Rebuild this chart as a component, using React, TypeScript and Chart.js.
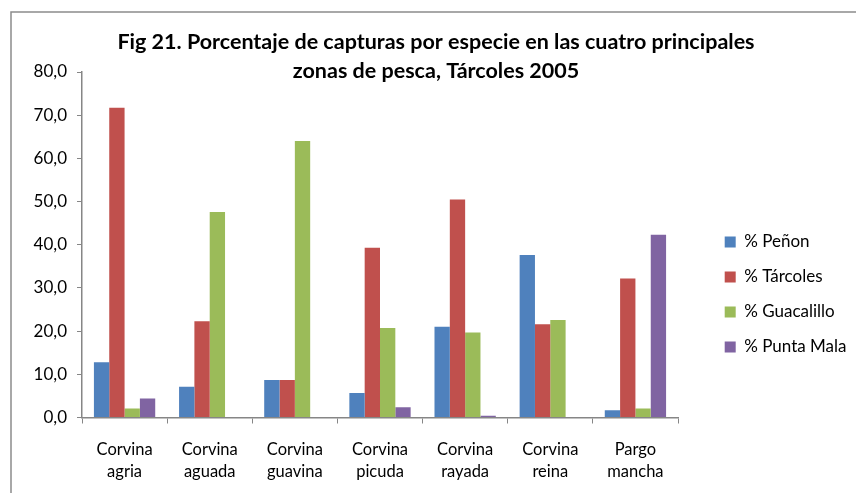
import React, { useEffect, useRef } from 'react';
import { Chart, registerables } from 'chart.js';

Chart.register(...registerables);

const titleLines = [
  'Fig 21. Porcentaje de capturas por especie en las cuatro principales',
  'zonas de pesca, Tárcoles 2005',
];
const categories = [
  ['Corvina', 'agria'],
  ['Corvina', 'aguada'],
  ['Corvina', 'guavina'],
  ['Corvina', 'picuda'],
  ['Corvina', 'rayada'],
  ['Corvina', 'reina'],
  ['Pargo', 'mancha'],
];
const seriesNames = ['% Peñon', '% Tárcoles', '% Guacalillo', '% Punta Mala'];
const penon = [12.8, 7.1, 8.7, 5.7, 21.0, 37.6, 1.7];
const tarcoles = [71.7, 22.3, 8.7, 39.3, 50.5, 21.6, 32.2];
const guacalillo = [2.1, 47.6, 64.0, 20.7, 19.7, 22.6, 2.1];
const puntaMala = [4.4, 0, 0, 2.4, 0.4, 0, 42.3];
const yTickLabels = ['0,0', '10,0', '20,0', '30,0', '40,0', '50,0', '60,0', '70,0', '80,0'];
const seriesColors = ['#4F81BD', '#C0504D', '#9BBB59', '#8064A2'];

const FONT = 'Lato, "Noto Sans", sans-serif';
const AXIS = '#868686';

const framePlugin = {
  id: 'frame',
  beforeDraw(chart: any) {
    const ctx = chart.ctx;
    ctx.save();
    ctx.strokeStyle = '#8c8c8c';
    ctx.lineWidth = 1.5;
    ctx.beginPath();
    ctx.moveTo(11, chart.height);
    ctx.lineTo(11, 12);
    ctx.lineTo(chart.width, 12);
    ctx.stroke();
    ctx.restore();
  },
};

const placePlugin = {
  id: 'place',
  afterLayout(chart: any) {
    const t = chart.titleBlock;
    if (t) {
      const h = t.height;
      t.top = 27.5;
      t.bottom = 27.5 + h;
      t.left = 0;
      t.right = 872;
    }
    const l = chart.legend;
    if (l) {
      const w = l.width;
      const h = l.height;
      l.left = 706.7;
      l.right = 706.7 + w;
      l.top = 215.5;
      l.bottom = 215.5 + h;
    }
  },
};

export default function App() {
  const ref = useRef<HTMLCanvasElement>(null);
  useEffect(() => {
    const data = [penon, tarcoles, guacalillo, puntaMala];
    const chart = new Chart(ref.current as HTMLCanvasElement, {
      type: 'bar',
      data: {
        labels: categories,
        datasets: seriesNames.map((name, i) => ({
          label: name,
          data: data[i],
          backgroundColor: seriesColors[i],
          borderWidth: 0,
          barPercentage: 1,
          categoryPercentage: 0.72,
        })),
      },
      options: {
        animation: false,
        responsive: false,
        devicePixelRatio: 1,
        layout: { padding: { top: 14, right: 178, bottom: 0, left: 0 } },
        plugins: {
          title: {
            display: true,
            text: titleLines,
            color: '#000',
            font: { family: FONT, size: 21.5, weight: 'bold', lineHeight: 29 / 21.5 },
            padding: 0,
          },
          legend: {
            position: 'chartArea',
            align: 'start',
            labels: {
              color: '#000',
              font: { family: FONT, size: 17 },
              boxWidth: 11,
              boxHeight: 11,
              padding: 18,
            },
          },
          tooltip: { enabled: false },
        },
        scales: {
          x: {
            grid: { display: true, drawOnChartArea: false, drawTicks: true, tickLength: 6, color: AXIS, offset: true },
            border: { display: true, color: AXIS, width: 1.5 },
            ticks: { color: '#000', font: { family: FONT, size: 16.5, lineHeight: 22 / 16.5 }, padding: 15, maxRotation: 0, autoSkip: false },
            afterFit(scale: any) { scale.height = 75.5; },
          },
          y: {
            min: 0,
            max: 80,
            grid: { display: true, drawOnChartArea: false, drawTicks: true, tickLength: 5, color: AXIS },
            border: { display: true, color: AXIS, width: 1.5 },
            ticks: {
              stepSize: 10,
              color: '#000',
              font: { family: FONT, size: 17 },
              padding: 10,
              callback: (_v: any, i: number) => yTickLabels[i],
            },
            afterFit(scale: any) { scale.width = 82; },
          },
        },
      },
      plugins: [framePlugin, placePlugin],
    } as any);
    return () => chart.destroy();
  }, []);
  return (
    <div style={{ position: 'absolute', left: 0, top: 0, width: 856, height: 493, background: '#fff' }}>
      <canvas ref={ref} width={856} height={493} style={{ display: 'block', width: 856, height: 493 }} />
    </div>
  );
}
